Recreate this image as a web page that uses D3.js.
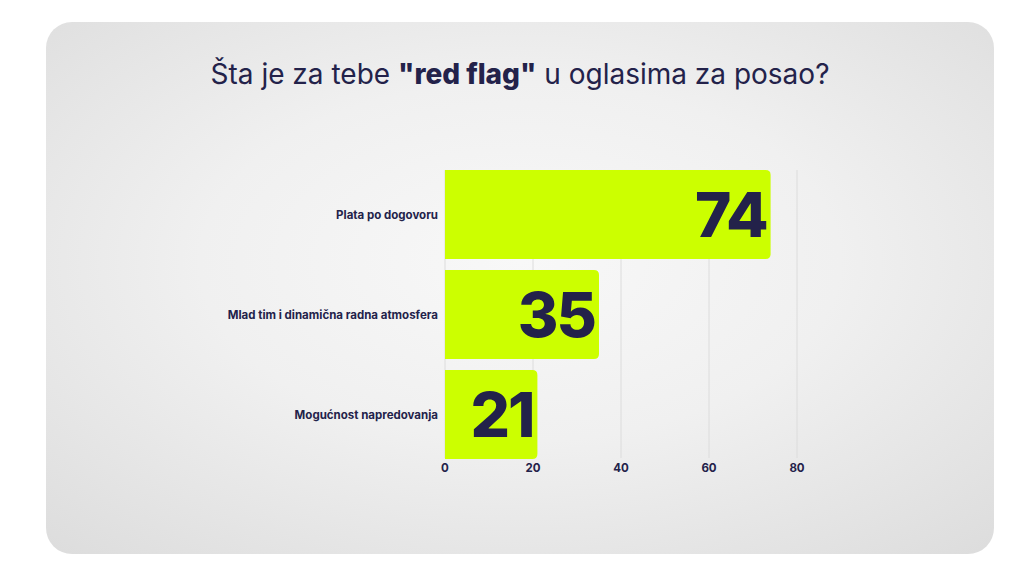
<!DOCTYPE html>
<html><head><meta charset="utf-8">
<script src="https://cdn.jsdelivr.net/npm/d3@7"></script>
<style>body{margin:0;background:#fff;}text{font-family:Inter,"Open Sans",sans-serif;}</style>
</head><body><svg id="c" width="1024" height="576"></svg>
<script>
const categories = ["Plata po dogovoru","Mlad tim i dinamična radna atmosfera","Mogućnost napredovanja"];
const values = [74,35,21];
const ticks = [0,20,40,60,80];
const navy = "#23224a";
const svg = d3.select("#c");
const defs = svg.append("defs");
const g = defs.append("radialGradient").attr("id","bg").attr("cx","50%").attr("cy","45%").attr("r","75%");
g.append("stop").attr("offset","0%").attr("stop-color","#f8f8f8");
g.append("stop").attr("offset","45%").attr("stop-color","#f0f0f0");
g.append("stop").attr("offset","100%").attr("stop-color","#dcdcdc");
svg.append("rect").attr("x",46).attr("y",22).attr("width",948).attr("height",532).attr("rx",26).attr("fill","url(#bg)");
const t = svg.append("text").attr("x",520).attr("y",84).attr("text-anchor","middle").attr("font-size",28).attr("fill",navy);
t.append("tspan").text("Šta je za tebe ");
t.append("tspan").attr("font-weight",800).text("\"red flag\"");
t.append("tspan").text(" u oglasima za posao?");
const x = d3.scaleLinear().domain([0,80]).range([445,797]);
const y = d3.scaleBand().domain(categories).range([170,459]).paddingInner(0.11).paddingOuter(0);
svg.append("g").selectAll("line").data(ticks).join("line")
 .attr("x1",d=>x(d)).attr("x2",d=>x(d)).attr("y1",170).attr("y2",458).attr("stroke","#dcdcdc").attr("stroke-width",1);
const bh = y.bandwidth(), r = 5;
svg.append("g").selectAll("path").data(values).join("path")
 .attr("fill","#ccff00")
 .attr("d",(d,i)=>{const y0=y(categories[i]),x0=x(0),x1=x(d);
   return `M${x0},${y0}H${x1-r}Q${x1},${y0} ${x1},${y0+r}V${y0+bh-r}Q${x1},${y0+bh} ${x1-r},${y0+bh}H${x0}Z`;});
svg.append("g").selectAll("text").data(values).join("text")
 .attr("x",d=>x(d)-4).attr("y",(d,i)=>y(categories[i])+bh/2+22).attr("text-anchor","end")
 .attr("font-size",62).attr("font-weight",800).attr("fill",navy).attr("letter-spacing",-2).text(d=>d);
svg.append("g").selectAll("text").data(categories).join("text")
 .attr("x",438).attr("y",c=>y(c)+bh/2+4).attr("text-anchor","end")
 .attr("font-size",11.5).attr("font-weight",700).attr("fill",navy).text(c=>c);
svg.append("g").selectAll("text").data(ticks).join("text")
 .attr("x",d=>x(d)).attr("y",472).attr("text-anchor","middle")
 .attr("font-size",11.5).attr("font-weight",700).attr("fill",navy).text(d=>d);
</script></body></html>
